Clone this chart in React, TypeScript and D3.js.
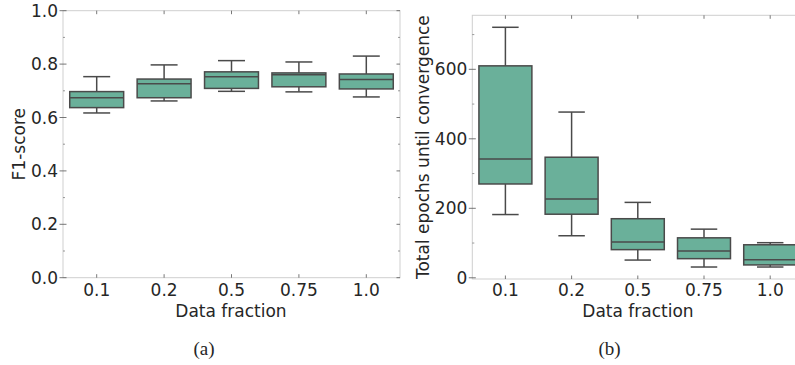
import React, { useEffect, useRef } from "react";
import * as d3 from "d3";

// data fraction categories
const categories = ["0.1", "0.2", "0.5", "0.75", "1.0"];

// (a) F1-score box stats
const f1Low = [0.617, 0.662, 0.698, 0.696, 0.677];
const f1Q1 = [0.637, 0.674, 0.709, 0.715, 0.707];
const f1Med = [0.674, 0.726, 0.753, 0.76, 0.742];
const f1Q3 = [0.697, 0.744, 0.771, 0.767, 0.763];
const f1High = [0.753, 0.797, 0.813, 0.808, 0.83];

// (b) total epochs box stats
const epLow = [182, 121, 51, 31, 31];
const epQ1 = [270, 183, 81, 55, 37];
const epMed = [342, 227, 103, 77, 52];
const epQ3 = [610, 347, 170, 115, 95];
const epHigh = [721, 477, 217, 140, 101];

const f1Ticks = [0, 0.2, 0.4, 0.6, 0.8, 1.0];
const f1Minor = [0.1, 0.3, 0.5, 0.7, 0.9];
const epTicks = [0, 200, 400, 600];
const epMinor = [100, 300, 500, 700];

const W = 795;
const H = 365;
const FONT = "'DejaVu Sans', sans-serif";
const FS = 17;
const TEXT = "#262626";
const FRAME = "#cfcfcf";
const TICK = "#555555";
const FILL = "#6ab09a";
const EDGE = "#4a4a4a";

type PanelOpts = {
  left: number;
  right: number;
  top: number;
  bottom: number;
  domain: [number, number];
  ticks: number[];
  minor: number[];
  fmt: (v: number) => string;
  low: number[];
  q1: number[];
  med: number[];
  q3: number[];
  high: number[];
  ylabel: string;
  ylabelX: number;
  xlabelX: number;
  caption: string;
  captionX: number;
};

function drawPanel(root: d3.Selection<SVGSVGElement, unknown, null, undefined>, o: PanelOpts) {
  const g = root.append("g");
  const x = d3.scaleBand().domain(categories).range([o.left, o.right]).padding(0);
  const y = d3.scaleLinear().domain(o.domain).range([o.bottom, o.top]);
  const bw = x.bandwidth() * 0.8;

  const rows = categories.map((c, i) => ({
    c,
    low: o.low[i],
    q1: o.q1[i],
    med: o.med[i],
    q3: o.q3[i],
    high: o.high[i],
  }));

  // boxes
  const box = g.selectAll(".box").data(rows).enter().append("g");
  const cx = (d: any) => (x(d.c) as number) + x.bandwidth() / 2;
  box.append("line")
    .attr("x1", cx).attr("x2", cx)
    .attr("y1", (d) => y(d.q3)).attr("y2", (d) => y(d.high))
    .attr("stroke", EDGE).attr("stroke-width", 1.5);
  box.append("line")
    .attr("x1", cx).attr("x2", cx)
    .attr("y1", (d) => y(d.q1)).attr("y2", (d) => y(d.low))
    .attr("stroke", EDGE).attr("stroke-width", 1.5);
  box.append("line")
    .attr("x1", (d) => cx(d) - bw / 4).attr("x2", (d) => cx(d) + bw / 4)
    .attr("y1", (d) => y(d.high)).attr("y2", (d) => y(d.high))
    .attr("stroke", EDGE).attr("stroke-width", 1.5);
  box.append("line")
    .attr("x1", (d) => cx(d) - bw / 4).attr("x2", (d) => cx(d) + bw / 4)
    .attr("y1", (d) => y(d.low)).attr("y2", (d) => y(d.low))
    .attr("stroke", EDGE).attr("stroke-width", 1.5);
  box.append("rect")
    .attr("x", (d) => cx(d) - bw / 2)
    .attr("width", bw)
    .attr("y", (d) => y(d.q3))
    .attr("height", (d) => y(d.q1) - y(d.q3))
    .attr("fill", FILL).attr("stroke", EDGE).attr("stroke-width", 1.5);
  box.append("line")
    .attr("x1", (d) => cx(d) - bw / 2).attr("x2", (d) => cx(d) + bw / 2)
    .attr("y1", (d) => y(d.med)).attr("y2", (d) => y(d.med))
    .attr("stroke", EDGE).attr("stroke-width", 1.5);

  // frame
  g.append("rect")
    .attr("x", o.left).attr("y", o.top)
    .attr("width", o.right - o.left).attr("height", o.bottom - o.top)
    .attr("fill", "none").attr("stroke", FRAME).attr("stroke-width", 1);

  // y ticks (major cross the spine, minor inside), mirrored on the right
  o.ticks.forEach((t) => {
    g.append("line").attr("x1", o.left - 3.5).attr("x2", o.left + 3.5)
      .attr("y1", y(t)).attr("y2", y(t)).attr("stroke", TICK).attr("stroke-width", 0.8);
    g.append("line").attr("x1", o.right - 3.5).attr("x2", o.right)
      .attr("y1", y(t)).attr("y2", y(t)).attr("stroke", TICK).attr("stroke-width", 0.8);
    g.append("text")
      .attr("x", o.left - 5).attr("y", y(t)).attr("dy", "0.36em")
      .attr("text-anchor", "end").attr("font-family", FONT).attr("font-size", FS)
      .attr("fill", TEXT).text(o.fmt(t));
  });
  o.minor.forEach((t) => {
    g.append("line").attr("x1", o.left).attr("x2", o.left + 2)
      .attr("y1", y(t)).attr("y2", y(t)).attr("stroke", TICK).attr("stroke-width", 0.6);
    g.append("line").attr("x1", o.right - 2).attr("x2", o.right)
      .attr("y1", y(t)).attr("y2", y(t)).attr("stroke", TICK).attr("stroke-width", 0.6);
  });

  // x ticks inside top and bottom
  categories.forEach((c) => {
    const px = (x(c) as number) + x.bandwidth() / 2;
    g.append("line").attr("x1", px).attr("x2", px)
      .attr("y1", o.bottom).attr("y2", o.bottom - 3.5).attr("stroke", TICK).attr("stroke-width", 0.8);
    g.append("line").attr("x1", px).attr("x2", px)
      .attr("y1", o.top).attr("y2", o.top + 3.5).attr("stroke", TICK).attr("stroke-width", 0.8);
    g.append("text")
      .attr("x", px).attr("y", 296)
      .attr("text-anchor", "middle").attr("font-family", FONT).attr("font-size", FS)
      .attr("fill", TEXT).text(c);
  });

  g.append("text")
    .attr("x", o.xlabelX)
    .attr("y", 316.5)
    .attr("text-anchor", "middle").attr("font-family", FONT).attr("font-size", FS)
    .attr("fill", TEXT).text("Data fraction");

  g.append("text")
    .attr("transform", `translate(${o.ylabelX},${(o.top + o.bottom) / 2}) rotate(-90)`)
    .attr("text-anchor", "middle").attr("font-family", FONT).attr("font-size", FS)
    .attr("fill", TEXT).text(o.ylabel);

  g.append("text")
    .attr("x", o.captionX).attr("y", 355)
    .attr("text-anchor", "middle").attr("font-family", "'Liberation Serif', 'DejaVu Serif', serif")
    .attr("font-size", 19).attr("fill", TEXT).text(o.caption);
}

const App = () => {
  const ref = useRef<SVGSVGElement>(null);

  useEffect(() => {
    const svg = d3.select(ref.current as SVGSVGElement);
    svg.selectAll("*").remove();
    svg.append("rect").attr("width", W).attr("height", H).attr("fill", "#ffffff");

    drawPanel(svg, {
      left: 63, right: 400, top: 10.7, bottom: 277.7,
      domain: [0, 1],
      ticks: f1Ticks, minor: f1Minor,
      fmt: (v) => v.toFixed(1),
      low: f1Low, q1: f1Q1, med: f1Med, q3: f1Q3, high: f1High,
      ylabel: "F1-score", ylabelX: 25,
      xlabelX: 231, caption: "(a)", captionX: 204,
    });

    // y range padded 5% like matplotlib autoscale
    const lo = d3.min(epLow) as number;
    const hi = d3.max(epHigh) as number;
    const pad = (hi - lo) * 0.05;
    drawPanel(svg, {
      left: 472.3, right: 803.3, top: 15.3, bottom: 279,
      domain: [lo - pad, hi + pad],
      ticks: epTicks, minor: epMinor,
      fmt: (v) => String(v),
      low: epLow, q1: epQ1, med: epMed, q3: epQ3, high: epHigh,
      ylabel: "Total epochs until convergence", ylabelX: 429,
      xlabelX: 638, caption: "(b)", captionX: 609.5,
    });
  }, []);

  return (
    <svg
      ref={ref}
      width={W}
      height={H}
      style={{ position: "absolute", left: 0, top: 0, display: "block" }}
    />
  );
};

export default App;
